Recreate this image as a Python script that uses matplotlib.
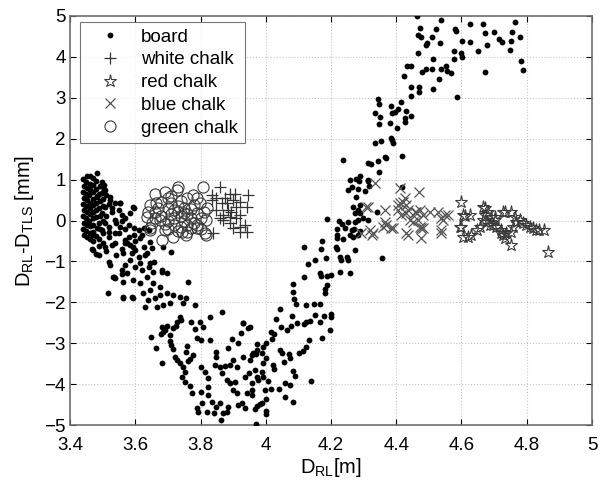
import matplotlib
matplotlib.use("Agg")
import matplotlib.pyplot as plt

plt.rcParams['font.family'] = ['Liberation Sans', 'DejaVu Sans']
plt.rcParams['mathtext.fontset'] = 'custom'
plt.rcParams['mathtext.rm'] = 'Liberation Sans'
plt.rcParams['mathtext.it'] = 'Liberation Sans'

# ---- board (D_RL [m], D_RL - D_TLS [mm]) ----
board = [
    # dense cluster near 3.45 m
    (3.441, 1.02), (3.442, 0.85), (3.440, 0.70), (3.443, 0.55), (3.441, 0.40), (3.442, 0.25),
    (3.440, 0.10), (3.443, -0.05), (3.441, -0.20), (3.442, -0.35),
    (3.451, 1.08), (3.450, 0.95), (3.452, 0.80), (3.449, 0.66), (3.451, 0.50), (3.450, 0.36),
    (3.452, 0.22), (3.449, 0.06), (3.451, -0.10), (3.450, -0.25), (3.452, -0.40), (3.448, 0.60),
    (3.461, 1.10), (3.460, 0.90), (3.462, 0.74), (3.459, 0.62), (3.461, 0.44), (3.460, 0.30),
    (3.462, 0.15), (3.459, 0.00), (3.461, -0.14), (3.460, -0.30), (3.462, -0.45), (3.458, 0.80),
    (3.471, 1.05), (3.470, 0.88), (3.472, 0.70), (3.469, 0.52), (3.471, 0.38), (3.470, 0.20),
    (3.472, 0.05), (3.469, -0.12), (3.471, -0.28), (3.470, -0.50),
    (3.481, 0.96), (3.480, 0.78), (3.482, 0.60), (3.479, 0.42), (3.481, 0.25), (3.480, 0.08),
    (3.482, -0.18), (3.479, -0.38),
    (3.491, 0.85), (3.490, 0.65), (3.492, 0.48), (3.489, 0.30), (3.491, 0.12), (3.490, -0.05),
    (3.492, -0.22), (3.489, -0.45),
    (3.501, 0.70), (3.500, 0.52), (3.502, 0.35), (3.499, 0.18), (3.501, -0.02), (3.500, -0.30),
    (3.483, 1.17), (3.503, 0.87), (3.508, 0.75), (3.498, 0.67), (3.483, 0.58), (3.523, 0.50),
    (3.539, 0.42), (3.554, 0.42), (3.508, 0.34), (3.529, 0.30), (3.595, 0.30), (3.559, 0.13),
    (3.569, 0.05), (3.539, 0.01), (3.508, -0.07), (3.498, -0.23), (3.519, -0.27), (3.539, -0.31),
    (3.554, -0.15), (3.580, -0.11), (3.595, -0.19), (3.610, -0.23), (3.626, -0.19), (3.595, -0.35),
    (3.615, -0.44), (3.569, -0.48), (3.539, -0.56), (3.508, -0.64), (3.472, -0.72), (3.488, -0.84),
    (3.519, -1.01), (3.585, -0.60), (3.600, -0.72), (3.626, -0.64), (3.646, -0.52), (3.641, -0.23),
    (3.656, -1.01), (3.682, -1.25), (3.534, -1.37), (3.559, -1.21), (3.620, -1.21), (3.641, -1.13),
    (3.517, -1.78), (3.563, -1.86), (3.589, -1.86), (3.468, -0.70), (3.480, -0.82), (3.522, -1.09),
    (3.533, -1.37), (3.538, -1.41), (3.558, -1.31), (3.584, 0.18), (3.594, 0.34), (3.553, 0.42),
    (3.522, 0.58), (3.502, 0.83), (3.497, 0.95),
    (3.51, 0.10), (3.52, -0.15), (3.53, 0.20), (3.54, -0.05), (3.52, -0.40), (3.55, -0.30),
    (3.50, -0.55), (3.53, -0.60), (3.56, 0.00), (3.57, -0.20), (3.58, -0.40), (3.51, -0.75),
    (3.54, -0.85), (3.56, -0.70), (3.60, -0.50), (3.62, -0.35), (3.49, -0.62), (3.47, -0.35),
    (3.55, 0.25), (3.52, 0.40), (3.51, 0.62), (3.57, -0.55), (3.59, -0.80), (3.61, -0.90),
    (3.63, -0.85),
    # descending branch
    (3.574, -0.56), (3.594, -0.64), (3.563, -0.80), (3.584, -0.97), (3.568, -1.09), (3.599, -1.13),
    (3.614, -1.05), (3.574, -1.29), (3.563, -1.50), (3.594, -1.45), (3.614, -1.54), (3.635, -1.37),
    (3.655, -1.25), (3.681, -1.21), (3.696, -1.29), (3.655, -1.54), (3.676, -1.62), (3.645, -1.70),
    (3.624, -1.78), (3.640, -1.94), (3.660, -1.90), (3.676, -1.82), (3.696, -1.78), (3.716, -1.82),
    (3.737, -1.86), (3.757, -1.90), (3.747, -2.02), (3.706, -2.02), (3.686, -2.07), (3.666, -2.11),
    (3.630, -2.11), (3.594, -1.90), (3.563, -1.90), (3.650, -0.68), (3.686, -0.64), (3.645, -1.05),
    (3.635, -0.80), (3.711, -0.78), (3.762, -1.50), (3.783, -2.07), (3.866, -2.24), (3.829, -2.35),
    (3.770, -2.49), (3.798, -2.49), (3.783, -2.66), (3.808, -2.60), (3.788, -2.88), (3.803, -2.92),
    (3.829, -2.92), (3.740, -2.43), (3.737, -2.35), (3.727, -2.49), (3.724, -2.58), (3.716, -2.62),
    (3.696, -2.58), (3.691, -2.68), (3.686, -2.72), (3.681, -2.61), (3.678, -2.78), (3.647, -2.86),
    (3.663, -3.12), (3.681, -3.49), (3.706, -2.80), (3.708, -2.95), (3.711, -3.04), (3.716, -3.14),
    (3.722, -3.33), (3.729, -3.41), (3.737, -3.49), (3.747, -3.57), (3.752, -3.70), (3.762, -3.43),
    (3.767, -3.39), (3.776, -3.29), (3.760, -3.07), (3.757, -3.21), (3.742, -3.82), (3.752, -3.94),
    (3.768, -4.04), (3.773, -4.22), (3.803, -3.57), (3.813, -3.70), (3.824, -3.86), (3.803, -4.19),
    (3.824, -4.06), (3.824, -4.27), (3.834, -4.43), (3.849, -4.55), (3.859, -4.47), (3.806, -4.47),
    (3.788, -4.59), (3.793, -4.67), (3.821, -4.67), (3.841, -4.71), (3.869, -4.71), (3.864, -4.88),
    (3.880, -4.67), (3.885, -4.55), (3.847, -3.22), (3.849, -3.34), (3.844, -3.53), (3.859, -3.57),
    (3.875, -3.56), (3.865, -3.74), (3.890, -3.53), (3.900, -3.41), (3.911, -3.57), (3.880, -3.90),
    (3.890, -3.98), (3.905, -3.94), (3.900, -4.14), (3.911, -4.22), (3.885, -3.12), (3.898, -2.90),
    (3.915, -3.00), (3.923, -2.76), (3.931, -2.50), (3.946, -2.64), (3.931, -3.33), (3.951, -3.41),
    (3.949, -3.74), (3.936, -3.82), (3.941, -4.22), (3.926, -4.47), (3.915, -4.51), (3.936, -4.59),
    (3.957, -3.29), (3.972, -3.17), (3.967, -3.66), (3.977, -3.90), (3.951, -2.60), (3.931, -2.51),
    # rising branch
    (4.189, 0.03), (4.224, 0.00), (4.235, -0.09), (4.219, -0.21), (4.237, -0.46), (4.219, -0.35),
    (4.215, -0.64), (4.217, -0.70), (4.230, -0.97), (4.251, -0.97), (4.229, -1.27), (4.259, -1.29),
    (4.172, -0.50), (4.169, -0.70), (4.184, -0.92), (4.166, -1.28), (4.168, -1.36), (4.188, -1.36),
    (4.200, -1.34), (4.118, -0.66), (4.131, -1.07), (4.150, -0.97), (4.117, -1.37), (4.188, -1.58),
    (4.182, -1.68), (4.181, -1.77), (4.085, -1.56), (4.085, -1.76), (4.088, -1.93), (4.092, -2.05),
    (4.123, -2.07), (4.148, -2.05), (4.166, -2.05), (4.199, -2.35), (4.199, -2.29), (4.179, -2.34),
    (4.166, -2.47), (4.150, -2.32), (4.137, -2.45), (4.122, -2.47), (4.117, -2.53), (4.096, -2.51),
    (4.079, -2.33), (4.196, -2.68), (4.173, -2.88), (4.134, -2.92), (4.123, -3.10), (4.115, -3.20),
    (4.102, -3.23), (4.043, -2.16), (4.031, -2.40), (4.046, -2.60), (4.066, -2.68), (4.076, -2.57),
    (4.015, -2.72), (4.026, -2.78), (4.018, -2.90), (4.002, -3.00), (3.992, -3.09), (3.972, -3.03),
    (3.961, -3.23), (3.970, -3.26), (3.987, -3.25), (4.000, -3.37), (4.043, -3.17), (4.051, -3.23),
    (4.072, -3.26), (4.056, -3.47), (4.074, -3.35), (4.084, -3.67), (4.091, -3.79), (4.140, -3.93),
    (3.993, -3.49), (4.023, -3.53), (4.025, -3.64), (3.987, -3.71), (3.992, -3.83), (3.972, -3.83),
    (3.957, -3.98), (4.007, -3.92), (4.016, -4.13), (3.997, -4.14), (4.041, -4.12), (4.059, -3.98),
    (4.074, -4.02), (4.058, -4.32), (4.084, -4.43), (4.002, -4.37), (3.990, -4.45), (3.982, -4.49),
    (3.972, -4.54), (3.967, -4.62), (4.000, -4.66), (4.000, -4.73), (3.970, -4.98), (3.957, -4.14),
    (3.957, -4.27),
    (4.258, 0.99), (4.263, 0.83), (4.314, 0.99), (4.277, 0.58), (4.268, 0.34), (4.283, 0.26),
    (4.273, 0.18), (4.288, 0.18), (4.314, 0.01), (4.283, 0.01), (4.273, -0.03), (4.252, -0.03),
    (4.263, -0.23), (4.242, -0.19), (4.258, -0.35), (4.283, -0.35), (4.273, -0.72), (4.217, -0.44),
    (4.227, -0.89), (4.249, -0.89), (4.288, 0.38), (4.298, 0.05), (4.270, -0.22), (4.288, -0.25),
    (4.268, -0.40), (4.357, -0.92), (4.342, 0.22), (4.314, 1.40), (4.367, 1.55),
    (4.236, 1.47), (4.347, 1.18), (4.278, 1.01), (4.288, 1.09), (4.286, 0.97), (4.312, 0.96),
    (4.251, 0.74), (4.283, 0.78), (4.304, 0.72), (4.318, 0.84), (4.417, 0.81),
    (4.419, 1.58), (4.368, 1.53), (4.344, 1.45), (4.323, 1.37),
    (4.383, 2.02), (4.388, 1.97), (4.390, 1.90), (4.336, 1.89), (4.352, 1.94), (4.403, 2.25),
    (4.334, 2.62), (4.350, 2.52), (4.346, 2.36), (4.382, 2.38), (4.414, 2.90), (4.384, 2.80),
    (4.404, 2.73), (4.396, 2.66), (4.386, 2.62), (4.429, 2.68), (4.444, 2.56), (4.427, 2.50),
    (4.427, 2.42), (4.344, 2.97), (4.347, 2.85), (4.445, 3.27), (4.470, 3.26), (4.469, 3.14),
    (4.513, 3.22), (4.444, 3.04), (4.586, 3.03), (4.423, 3.53), (4.532, 3.46),
    # top group
    (4.464, 5.00), (4.536, 4.90), (4.472, 4.71), (4.467, 4.54), (4.477, 4.49), (4.521, 4.67),
    (4.510, 4.49), (4.493, 4.35), (4.490, 4.30), (4.535, 4.33), (4.580, 4.69), (4.582, 4.63),
    (4.602, 4.40), (4.625, 4.36), (4.627, 4.80), (4.651, 4.15), (4.578, 4.14), (4.598, 4.09),
    (4.603, 3.99), (4.576, 3.94), (4.466, 4.09), (4.513, 3.94), (4.433, 3.78), (4.445, 3.78),
    (4.554, 3.78), (4.537, 3.70), (4.556, 3.66), (4.567, 3.61), (4.480, 3.64), (4.490, 3.70),
    (4.509, 3.70), (4.787, 3.67), (4.781, 3.90), (4.763, 4.85), (4.756, 4.61), (4.753, 4.40),
    (4.750, 4.17), (4.780, 4.49), (4.699, 4.62), (4.714, 4.44), (4.725, 4.36), (4.671, 4.58),
    (4.678, 4.29), (4.667, 4.80), (4.673, 3.62),
]

# ---- chalk samples ----
white_chalk = [
    (3.859, 0.83), (3.834, 0.62), (3.849, 0.54), (3.890, 0.66), (3.905, 0.66), (3.946, 0.62),
    (3.900, 0.50), (3.921, 0.46), (3.880, 0.42), (3.865, 0.42), (3.849, 0.26), (3.885, 0.26),
    (3.910, 0.34), (3.941, 0.34), (3.870, 0.13), (3.890, 0.09), (3.910, 0.05), (3.921, 0.13),
    (3.870, 0.01), (3.890, -0.07), (3.900, -0.19), (3.921, -0.15), (3.936, -0.11), (3.941, -0.27),
    (3.921, -0.27), (3.839, -0.31), (3.859, 0.05), (3.895, 0.22), (3.875, 0.54), (3.834, 0.50),
]

red_chalk = [
    (4.600, 0.46), (4.605, 0.13), (4.625, 0.13), (4.600, -0.15), (4.605, -0.40), (4.630, -0.35),
    (4.646, -0.23), (4.656, -0.15), (4.666, 0.34), (4.671, 0.13), (4.681, 0.22), (4.691, 0.09),
    (4.702, 0.01), (4.696, -0.11), (4.707, -0.15), (4.722, -0.23), (4.727, -0.35), (4.732, -0.44),
    (4.753, -0.60), (4.727, 0.22), (4.753, 0.22), (4.763, 0.09), (4.768, -0.03), (4.778, 0.01),
    (4.788, -0.07), (4.799, -0.11), (4.809, -0.15), (4.819, -0.19), (4.829, -0.23), (4.839, -0.23),
    (4.854, -0.23), (4.865, -0.76), (4.758, -0.15), (4.753, -0.27), (4.666, 0.01), (4.676, -0.03),
    (4.686, -0.11), (4.620, -0.41), (4.671, 0.30), (4.702, 0.09), (4.732, 0.22), (4.737, -0.31),
    (4.722, -0.31), (4.610, 0.11), (4.594, -0.15),
]

blue_chalk = [
    (4.334, 0.91), (4.411, 0.79), (4.469, 0.70), (4.314, 0.34), (4.365, 0.26), (4.426, 0.54),
    (4.411, 0.42), (4.431, 0.38), (4.406, 0.26), (4.436, 0.26), (4.457, 0.22), (4.472, 0.26),
    (4.503, 0.22), (4.528, 0.22), (4.549, 0.13), (4.538, 0.05), (4.416, 0.13), (4.442, 0.01),
    (4.467, 0.01), (4.482, 0.13), (4.365, -0.03), (4.370, -0.11), (4.385, -0.19), (4.360, -0.15),
    (4.319, -0.23), (4.329, -0.31), (4.472, -0.15), (4.482, -0.19), (4.436, -0.35), (4.477, -0.44),
    (4.538, -0.23), (4.538, -0.31), (4.543, 0.01), (4.559, 0.13), (4.307, 0.32), (4.293, -0.30),
    (4.327, -0.35), (4.390, -0.19), (4.431, -0.31), (4.477, -0.19), (4.452, -0.03), (4.406, 0.38),
    (4.421, 0.46), (4.431, 0.18), (4.462, 0.22),
]

green_chalk = [
    (3.660, 0.66), (3.732, 0.83), (3.808, 0.83), (3.778, 0.62), (3.645, 0.38), (3.645, -0.19),
    (3.681, -0.48), (3.813, -0.31), (3.757, -0.35), (3.716, -0.40), (3.635, 0.09), (3.701, 0.54),
    (3.727, 0.75), (3.665, 0.42), (3.798, 0.42), (3.818, 0.01), (3.788, -0.19), (3.742, -0.27),
    (3.676, 0.01), (3.691, -0.23), (3.660, 0.22), (3.645, -0.23), (3.818, -0.35),
    (3.70, 0.30), (3.71, 0.15), (3.72, 0.05), (3.73, 0.20), (3.74, 0.10), (3.75, 0.00),
    (3.76, 0.15), (3.77, 0.05), (3.78, -0.05), (3.72, -0.10), (3.74, -0.15), (3.76, -0.12),
    (3.70, 0.00), (3.68, 0.12), (3.69, -0.08), (3.73, 0.35), (3.75, 0.30), (3.77, 0.28),
    (3.79, 0.18), (3.80, 0.05), (3.79, -0.10), (3.71, 0.42), (3.74, 0.48), (3.67, 0.30),
    (3.66, 0.05), (3.78, 0.38), (3.72, 0.25), (3.75, 0.18), (3.77, -0.18), (3.81, 0.20),
    (3.68, 0.45), (3.70, -0.20), (3.73, -0.25), (3.76, -0.28), (3.80, -0.20), (3.82, 0.30),
    (3.65, -0.05), (3.64, 0.20), (3.71, 0.60), (3.76, 0.55), (3.79, 0.55), (3.69, 0.70),
]

x_ticks = [3.4, 3.6, 3.8, 4.0, 4.2, 4.4, 4.6, 4.8, 5.0]
x_ticklabels = ['3.4', '3.6', '3.8', '4', '4.2', '4.4', '4.6', '4.8', '5']
y_ticks = [-5, -4, -3, -2, -1, 0, 1, 2, 3, 4, 5]

fig = plt.figure(figsize=(6.03, 4.80), dpi=100)
ax = fig.add_axes([70 / 603, 55 / 480, 522 / 603, 409 / 480])


def split(pts):
    return [p[0] for p in pts], [p[1] for p in pts]


bx, by = split(board)
ax.plot(bx, by, linestyle='none', marker='o', markersize=4.2, color='black',
        markeredgewidth=0, label='board', zorder=3)
wx, wy = split(white_chalk)
ax.plot(wx, wy, linestyle='none', marker='+', markersize=8, color='#333333',
        markeredgewidth=0.9, label='white chalk', zorder=4)
rx, ry = split(red_chalk)
ax.plot(rx, ry, linestyle='none', marker='*', markersize=9.5, markerfacecolor='none',
        markeredgecolor='#3a3a3a', markeredgewidth=0.8, label='red chalk', zorder=4)
ux, uy = split(blue_chalk)
ax.plot(ux, uy, linestyle='none', marker='x', markersize=6.5, color='#555555',
        markeredgewidth=0.9, label='blue chalk', zorder=4)
gx, gy = split(green_chalk)
ax.plot(gx, gy, linestyle='none', marker='o', markersize=8, markerfacecolor='none',
        markeredgecolor='#3a3a3a', markeredgewidth=0.8, label='green chalk', zorder=4)

ax.set_xlim(3.4, 5.0)
ax.set_ylim(-5, 5)
ax.set_xticks(x_ticks)
ax.set_xticklabels(x_ticklabels)
ax.set_yticks(y_ticks)
ax.tick_params(direction='in', top=True, right=True, length=4, width=0.8,
               labelsize=13.5, colors='black')
ax.tick_params(axis='y', pad=3)
ax.tick_params(axis='x', pad=9)
for s in ax.spines.values():
    s.set_color('#707070')
    s.set_linewidth(1.2)
ax.grid(True, linestyle=':', color='#c8c8c8', linewidth=0.8)
ax.set_axisbelow(True)

ax.set_xlabel(r'D$_{\mathrm{RL}}$[m]', fontsize=14.5, labelpad=1)
ax.set_ylabel(r'D$_{\mathrm{RL}}$-D$_{\mathrm{TLS}}$ [mm]', fontsize=14.5, labelpad=6)

leg = ax.legend(loc='upper left', bbox_to_anchor=(10 / 522, 1 - 6 / 409),
                borderaxespad=0, fontsize=13.5, frameon=True, fancybox=False,
                edgecolor='#555555', handletextpad=0.4, labelspacing=0.3,
                borderpad=0.35, handlelength=2.5, numpoints=1)
leg.get_frame().set_linewidth(0.8)

fig.savefig('out.png', dpi=100)
